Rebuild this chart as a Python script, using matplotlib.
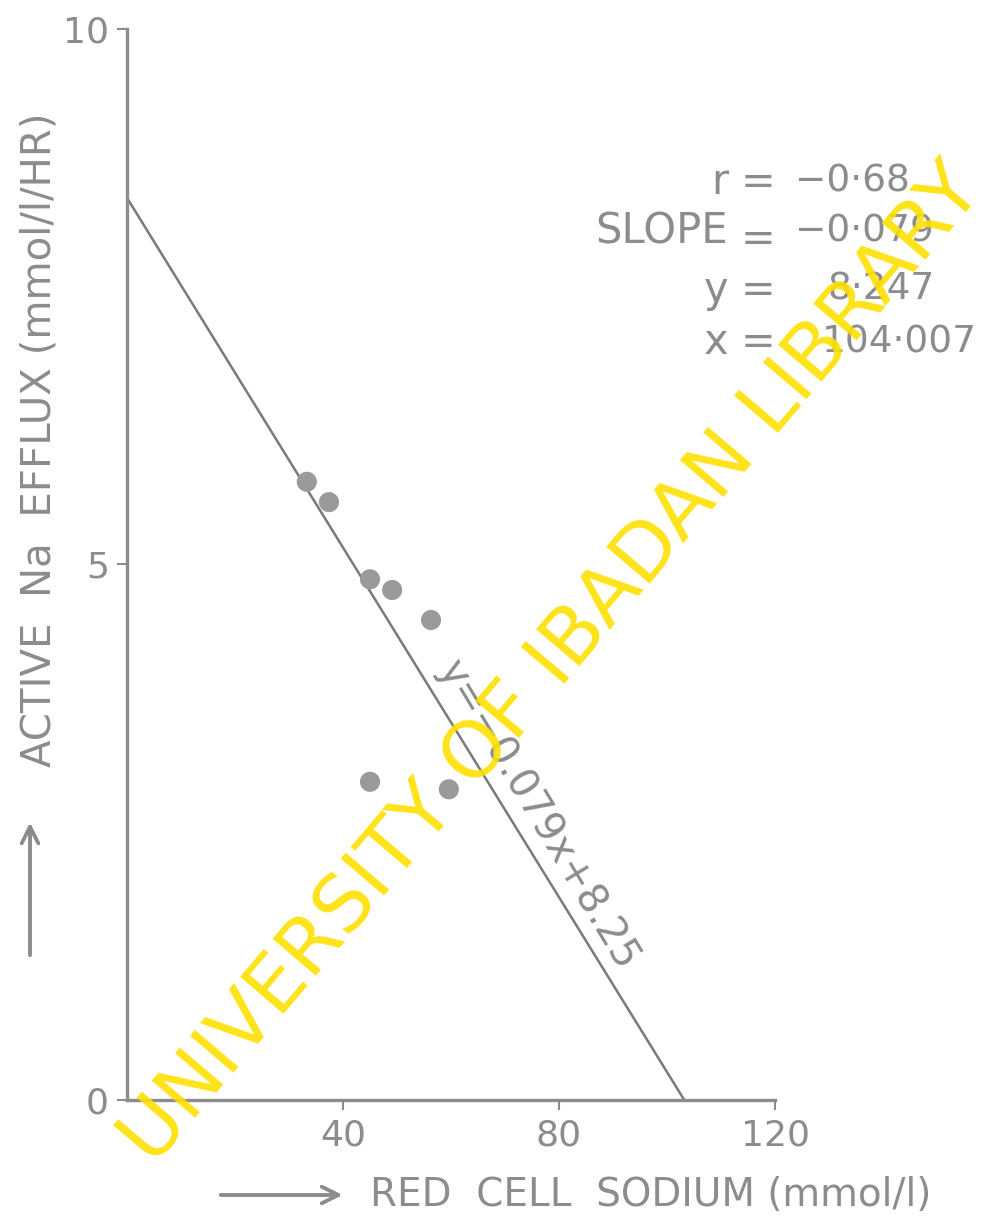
import numpy as np
import matplotlib.pyplot as plt

# Data
sodium = [33.3, 37.4, 45.0, 49.1, 56.3, 45.0, 59.6]
efflux = [5.77, 5.58, 4.86, 4.76, 4.48, 2.97, 2.90]
fit_x = [0, 103.2]
fit_y = [8.42, 0]
stat_names = ["r", "SLOPE", "y", "x"]
stat_values = ["\u22120\u00b768", "\u22120\u00b7079", "8\u00b7247", "104\u00b7007"]

gray = "#8c8c8c"
plt.rcParams['font.family'] = ['DejaVu Sans']

fig = plt.figure(figsize=(10.03, 12.19), dpi=100)
ax = fig.add_axes([0.1266, 0.0976, 0.6461, 0.879])

ax.plot(fit_x, fit_y, color="#7a7a7a", lw=1.8)
ax.scatter(sodium, efflux, s=210, color="#9a9a9a", edgecolors="none", zorder=3)

ax.set_xlim(0, 120)
ax.set_ylim(0, 10)
ax.set_xticks([40, 80, 120])
ax.set_yticks([0, 5, 10])
for s in ["top", "right"]:
    ax.spines[s].set_visible(False)
for s in ["left", "bottom"]:
    ax.spines[s].set_color(gray)
    ax.spines[s].set_linewidth(2.4)
ax.tick_params(colors=gray, labelcolor=gray, labelsize=26, width=1.5, length=7, pad=6)

# equation along the line
fig.text(538 / 1003, 1 - 815 / 1219, "y=\u22120.079x+8.25", rotation=-59, rotation_mode="anchor",
         ha="center", va="center", fontsize=29, color=gray)

# statistics block
rows_y = [182, 232, 290, 342]
val_left = [795, 795, 828, 822]
for name, val, py, vl in zip(stat_names, stat_values, rows_y, val_left):
    yf = 1 - py / 1219
    fig.text(728 / 1003, yf, name, ha="right", va="center", fontsize=30, color=gray)
    fig.text(758 / 1003, yf - (0.006 if name == "SLOPE" else 0), "=", ha="center", va="center",
             fontsize=30, color=gray)
    fig.text(vl / 1003, yf, val, ha="left", va="center", fontsize=27, color=gray)

# axis labels with arrows
fig.text(370 / 1003, 1 - 1195 / 1219, "RED  CELL  SODIUM (mmol/l)", ha="left", va="center",
         fontsize=28, color=gray)
fig.text(40 / 1003, 1 - 440 / 1219, "ACTIVE  Na  EFFLUX (mmol/l/HR)", ha="center", va="center",
         rotation=90, fontsize=29, color=gray)
fig.add_artist(plt.annotate("", xy=(345 / 1003, 1 - 1195 / 1219), xytext=(218 / 1003, 1 - 1195 / 1219),
                            xycoords="figure fraction",
                            arrowprops=dict(arrowstyle="->", color=gray, lw=2.5, mutation_scale=30)))
fig.add_artist(plt.annotate("", xy=(30 / 1003, 1 - 820 / 1219), xytext=(30 / 1003, 1 - 958 / 1219),
                            xycoords="figure fraction",
                            arrowprops=dict(arrowstyle="->", color=gray, lw=2.5, mutation_scale=30)))

# watermark
fig.text(552 / 1003, 1 - 665 / 1219, "UNIVERSITY OF IBADAN LIBRARY", ha="center", va="center",
         rotation=49.6, rotation_mode="anchor", fontsize=57, color="#ffe000", alpha=0.9, zorder=10)

fig.savefig("out.png", dpi=100)
